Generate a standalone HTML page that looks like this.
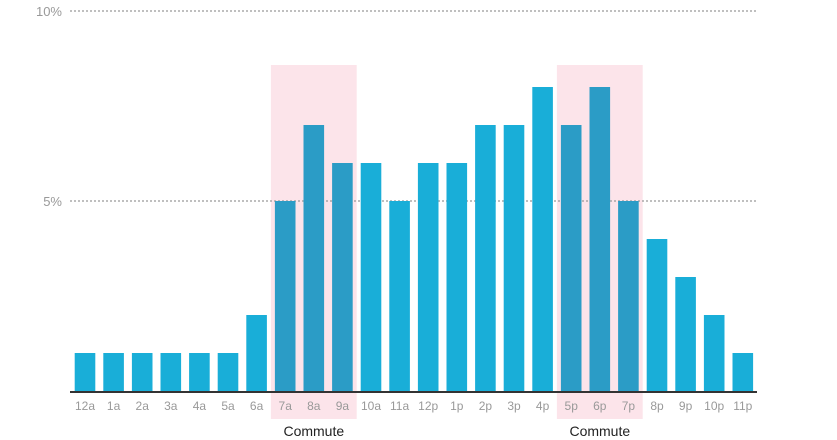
<!DOCTYPE html>
<html><head><meta charset="utf-8"><style>
body{margin:0;background:#fff;}
svg{display:block;font-family:"Liberation Sans",sans-serif;}
</style></head><body>
<svg id="chart" width="837" height="440"></svg>
<script>
const categories=["12a","1a","2a","3a","4a","5a","6a","7a","8a","9a","10a","11a","12p","1p","2p","3p","4p","5p","6p","7p","8p","9p","10p","11p"];
const values=[1,1,1,1,1,1,2,5,7,6,6,5,6,6,7,7,8,7,8,5,4,3,2,1];
const tickValues=[5,10];
const tickLabels=["5%","10%"];
const commuteRanges=[["7a","9a"],["5p","7p"]];
const NS="http://www.w3.org/2000/svg";
const svg=document.getElementById("chart");
const x0=70.7,step=28.6,bw=20.6,yBase=391,yTop=11,yMax=10;
function xs(i){return x0+i*step;}
function ys(v){return yBase-(v/yMax)*(yBase-yTop);}
function mk(tag,attrs,parent){const e=document.createElementNS(NS,tag);for(const k in attrs)e.setAttribute(k,attrs[k]);(parent||svg).appendChild(e);return e;}
// highlight
commuteRanges.forEach((r,j)=>{
  const a=categories.indexOf(r[0]),b=categories.indexOf(r[1]);
  const rc=mk("rect",{x:xs(a),y:65,width:(b-a+1)*step,height:419-65,fill:"#fce4ea"});
  
  
  const t=mk("text",{x:xs(a)+(b-a+1)*step/2,y:436,"text-anchor":"middle","font-size":"14",fill:"#222"});
  t.textContent="Commute";
  
  
});
// grid
tickValues.forEach((v,i)=>{
  const l=mk("line",{x1:70,x2:757,y1:ys(v),y2:ys(v),stroke:"#999","stroke-width":"1.2","stroke-dasharray":"2,2"});
  
  
  const t=mk("text",{x:62,y:ys(v)+5,"text-anchor":"end","font-size":"13",fill:"#999"});
  t.textContent=tickLabels[i];
  
  
});
// bars
function inCommute(i){return commuteRanges.some(r=>i>=categories.indexOf(r[0])&&i<=categories.indexOf(r[1]));}
values.forEach((v,i)=>{
  const b=mk("rect",{x:xs(i)+4,y:ys(v),width:bw,height:yBase-ys(v),fill:inCommute(i)?"#2b9cc6":"#19aed8"});
  
  
  const t=mk("text",{x:xs(i)+step/2,y:410,"text-anchor":"middle","font-size":"12",fill:"#999"});
  t.textContent=categories[i];
  
  
});
const ax=mk("line",{x1:70,x2:757,y1:392,y2:392,stroke:"#333","stroke-width":"2"});


</script>
</body></html>
